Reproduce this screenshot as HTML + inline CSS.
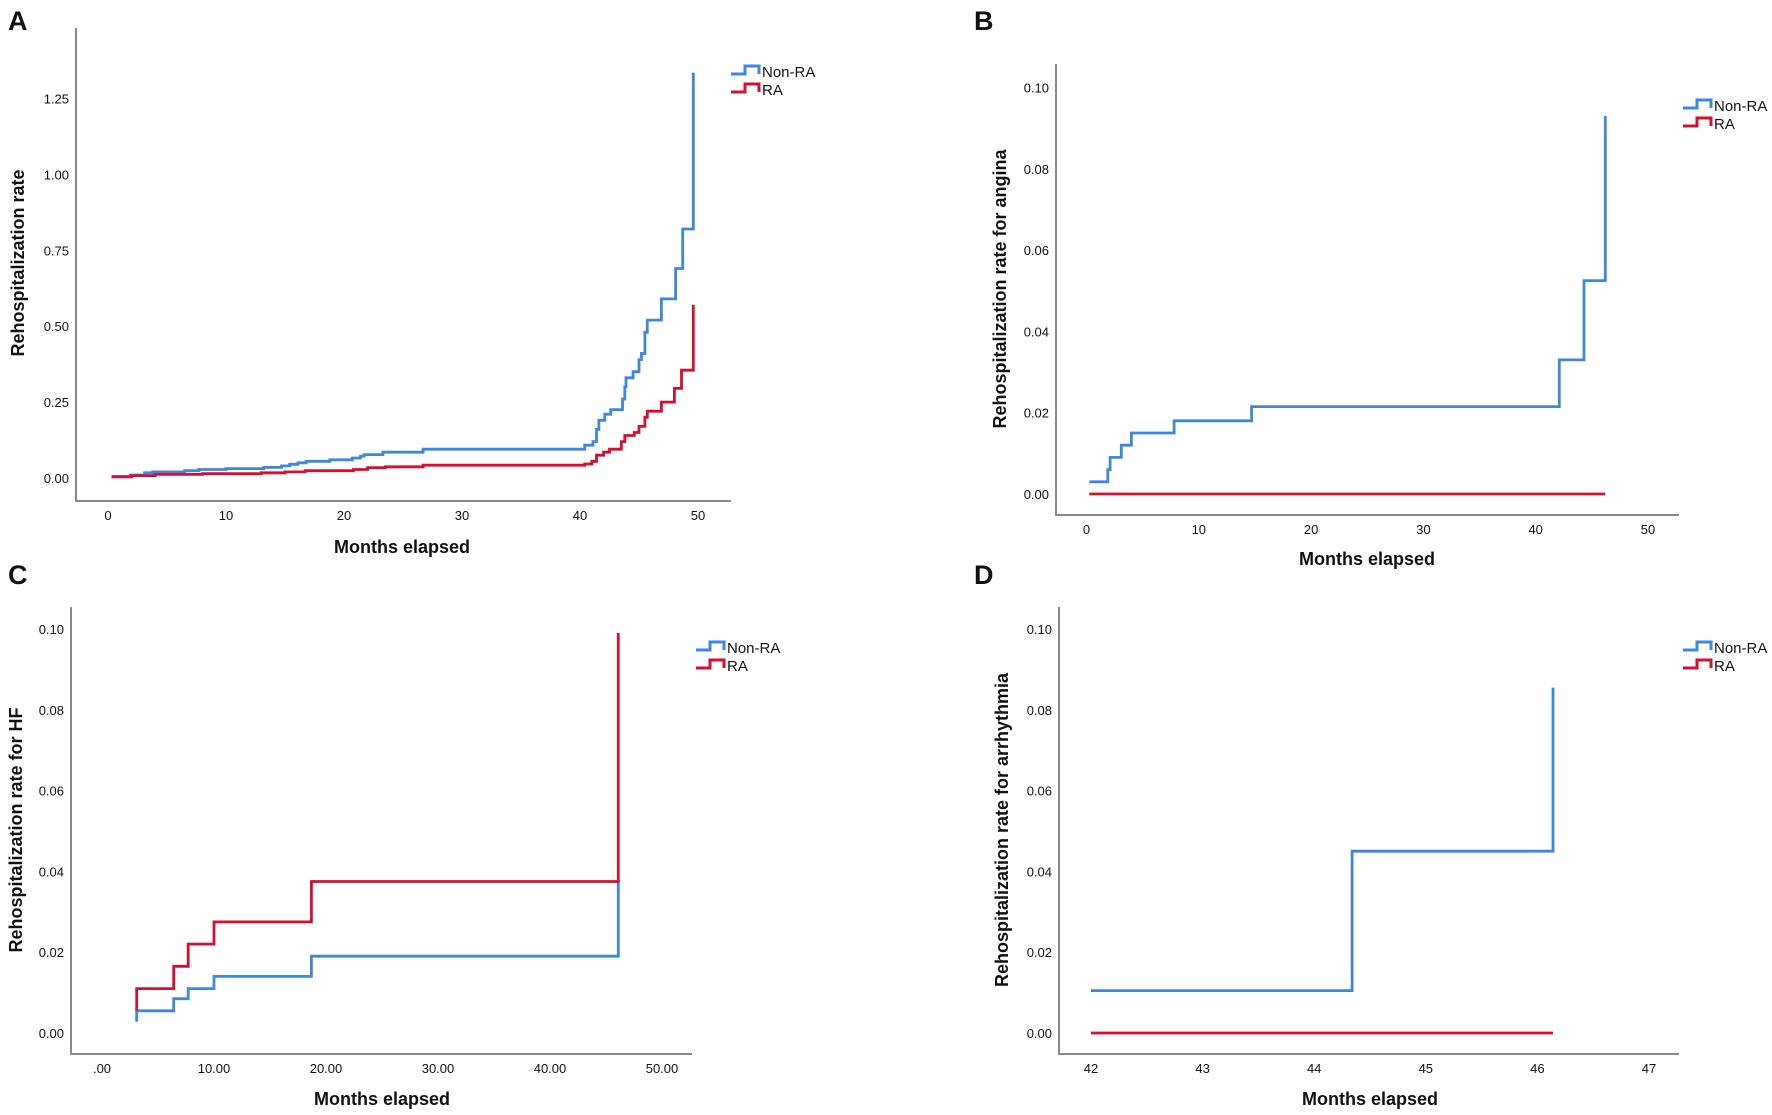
<!DOCTYPE html>
<html><head><meta charset="utf-8">
<style>
html,body{margin:0;padding:0;background:#fff;}
svg{display:block;}
text{font-family:"Liberation Sans",sans-serif;fill:#111;}
.tick{font-size:13px;}
.title{font-size:18px;font-weight:bold;}
.leg{font-size:15px;}
.plabel{font-size:27px;font-weight:bold;}
</style></head>
<body>
<svg id="fig" width="1772" height="1115" viewBox="0 0 1772 1115"></svg>
<script>
// ---- Panel A data ----
const aNonTimes=[0.3,1.9,3.1,3.8,6.5,7.7,10,13.2,14.7,15.4,16.1,16.8,18.8,20.7,21.4,21.7,23.3,26.7,40.4,41.1,41.4,41.6,42.1,42.6,43.6,43.8,43.9,44.5,45,45.2,45.5,45.7,46.9,48.1,48.7,49.6];
const aNonVals=[0.005,0.01,0.017,0.02,0.024,0.028,0.031,0.035,0.04,0.045,0.05,0.055,0.06,0.066,0.072,0.077,0.085,0.095,0.108,0.12,0.16,0.19,0.21,0.225,0.26,0.3,0.33,0.35,0.39,0.41,0.48,0.52,0.59,0.69,0.82,1.335];
const aRaTimes=[0.3,2,4,8,13,15,16.7,20.8,22,23.5,26.7,40.4,41,41.4,42,42.5,43.5,43.8,44.6,45,45.5,45.7,46.9,48,48.6,49.6];
const aRaVals=[0.004,0.008,0.012,0.014,0.017,0.02,0.024,0.028,0.034,0.037,0.042,0.046,0.055,0.075,0.085,0.095,0.12,0.14,0.15,0.17,0.2,0.22,0.25,0.295,0.355,0.57];
const aXTicks=[0,10,20,30,40,50];
const aXLabels=["0","10","20","30","40","50"];
const aYTicks=[0,0.25,0.5,0.75,1.0,1.25];
const aYLabels=["0.00","0.25","0.50","0.75","1.00","1.25"];
// ---- Panel B data ----
const bNonTimes=[0.25,1.9,2.1,3.1,4,7.8,14.7,42.1,44.3,46.2];
const bNonVals=[0.003,0.006,0.009,0.012,0.015,0.018,0.0215,0.033,0.0525,0.093];
const bRaTimes=[0.25,46.2];
const bRaVals=[0,0];
const bXTicks=[0,10,20,30,40,50];
const bXLabels=["0","10","20","30","40","50"];
const bYTicks=[0,0.02,0.04,0.06,0.08,0.10];
const bYLabels=["0.00","0.02","0.04","0.06","0.08","0.10"];
// ---- Panel C data ----
const cNonTimes=[3.1,3.1,6.4,7.7,10,18.7,46.1];
const cNonVals=[0.0028,0.0055,0.0085,0.011,0.014,0.019,0.0375];
const cRaTimes=[3.1,3.1,6.4,7.7,10,18.7,46.1];
const cRaVals=[0.0055,0.011,0.0165,0.022,0.0275,0.0375,0.099];
const cXTicks=[0,10,20,30,40,50];
const cXLabels=[".00","10.00","20.00","30.00","40.00","50.00"];
const cYTicks=[0,0.02,0.04,0.06,0.08,0.10];
const cYLabels=["0.00","0.02","0.04","0.06","0.08","0.10"];
// ---- Panel D data ----
const dNonTimes=[42,44.34,46.14];
const dNonVals=[0.0105,0.045,0.0855];
const dRaTimes=[42,46.14];
const dRaVals=[0,0];
const dXTicks=[42,43,44,45,46,47];
const dXLabels=["42","43","44","45","46","47"];
const dYTicks=[0,0.02,0.04,0.06,0.08,0.10];
const dYLabels=["0.00","0.02","0.04","0.06","0.08","0.10"];

const NS="http://www.w3.org/2000/svg";
const svg=document.getElementById('fig');
const BLUE="#3f87dd", RED="#d60f30";
function mk(tag,attrs,parent){const e=document.createElementNS(NS,tag);for(const k in attrs)e.setAttribute(k,attrs[k]);(parent||svg).appendChild(e);return e;}

function panel(p){
  const g=mk('g',{});
  
  
  const x=v=>p.x0px+(v-p.x0)*(p.x1px-p.x0px)/(p.x1-p.x0);
  const y=v=>p.y0px-(v-p.y0)*(p.y0px-p.y1px)/(p.y1-p.y0);
  const lab=mk('text',{x:p.lx,y:p.ly,'class':'plabel'},g);lab.textContent=p.id;
  
  
  const ax=mk('path',{d:`M${p.ax} ${p.atop} V${p.abot} H${p.aright}`,stroke:'#8a8a8a','stroke-width':2,fill:'none'},g);
  
  
  p.xt.forEach((t,i)=>{const e=mk('text',{x:x(t),y:p.abot+19,'text-anchor':'middle','class':'tick'},g);e.textContent=p.xl[i];
    
    });
  p.yt.forEach((t,i)=>{const e=mk('text',{x:p.ax-7,y:y(t)+5,'text-anchor':'end','class':'tick'},g);e.textContent=p.yl[i];
    
    });
  const xt=mk('text',{x:p.xtx,y:p.xty,'text-anchor':'middle','class':'title'},g);xt.textContent='Months elapsed';
  
  
  const yt=mk('text',{x:0,y:0,'text-anchor':'middle','class':'title',transform:`translate(${p.ytx},${p.yty}) rotate(-90)`},g);yt.textContent=p.ytitle;
  
  
  function series(ts,vs,col,name){
    let d=`M${x(ts[0]).toFixed(1)} ${y(vs[0]).toFixed(1)}`;
    for(let i=1;i<ts.length;i++){d+=` H${x(ts[i]).toFixed(1)} V${y(vs[i]).toFixed(1)}`;}
    const s=mk('path',{d:d,stroke:col,'stroke-width':2.8,fill:'none'},g);
    
    
  }
  series(p.nt,p.nv,BLUE,'series-non-ra');
  series(p.rt,p.rv,RED,'series-ra');
  [[BLUE,'Non-RA',p.legy],[RED,'RA',p.legy+18]].forEach(([c,t,yy])=>{
    const li=mk('path',{d:`M${p.legx} ${yy+3} H${p.legx+14} V${yy-5} H${p.legx+28} V${yy+3}`,stroke:c,'stroke-width':3,fill:'none'},g);
    
    
    const lt=mk('text',{x:p.legx+31,y:yy+6,'class':'leg'},g);lt.textContent=t;
    
    
  });
}

panel({id:'A',lx:8,ly:30,ax:76,atop:28,abot:501,aright:731,x0:0,x1:50,x0px:108,x1px:698,y0:0,y1:1.25,y0px:478,y1px:98.5,
  xt:aXTicks,xl:aXLabels,yt:aYTicks,yl:aYLabels,xtx:402,xty:553,ytx:24,yty:263,ytitle:'Rehospitalization rate',
  nt:aNonTimes,nv:aNonVals,rt:aRaTimes,rv:aRaVals,legx:731,legy:71});
panel({id:'B',lx:974,ly:30,ax:1056,atop:64,abot:515,aright:1679,x0:0,x1:50,x0px:1086.5,x1px:1648,y0:0,y1:0.1,y0px:494,y1px:87.5,
  xt:bXTicks,xl:bXLabels,yt:bYTicks,yl:bYLabels,xtx:1367,xty:565,ytx:1006,yty:289,ytitle:'Rehospitalization rate for angina',
  nt:bNonTimes,nv:bNonVals,rt:bRaTimes,rv:bRaVals,legx:1683,legy:105});
panel({id:'C',lx:8,ly:584,ax:71,atop:607,abot:1054,aright:692,x0:0,x1:50,x0px:102,x1px:662,y0:0,y1:0.1,y0px:1033,y1px:629,
  xt:cXTicks,xl:cXLabels,yt:cYTicks,yl:cYLabels,xtx:382,xty:1105,ytx:22,yty:830,ytitle:'Rehospitalization rate for HF',
  nt:cNonTimes,nv:cNonVals,rt:cRaTimes,rv:cRaVals,legx:696,legy:647});
panel({id:'D',lx:974,ly:584,ax:1059,atop:607,abot:1054,aright:1679,x0:42,x1:47,x0px:1091,x1px:1649,y0:0,y1:0.1,y0px:1033,y1px:629,
  xt:dXTicks,xl:dXLabels,yt:dYTicks,yl:dYLabels,xtx:1370,xty:1105,ytx:1008,yty:830,ytitle:'Rehospitalization rate for arrhythmia',
  nt:dNonTimes,nv:dNonVals,rt:dRaTimes,rv:dRaVals,legx:1683,legy:647});
</script>
</body></html>
